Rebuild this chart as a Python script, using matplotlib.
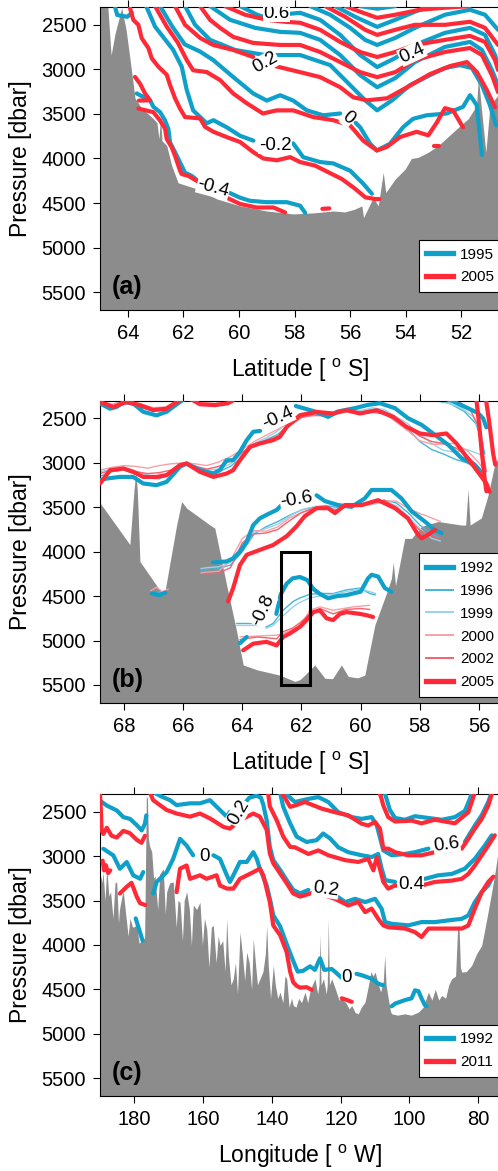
import numpy as np
import matplotlib.pyplot as plt
from matplotlib.lines import Line2D
from matplotlib.patches import Rectangle

plt.rcParams['font.family'] = ['Liberation Sans', 'DejaVu Sans']
plt.rcParams['mathtext.fontset'] = 'custom'
plt.rcParams['mathtext.rm'] = 'Liberation Sans'

BLUE = '#0FA0CA'
RED = '#FF2A38'
BLUE_96 = '#45B5DA'
BLUE_99 = '#96D3EA'
PINK_00 = '#F8A0A8'
PINK_02 = '#F5616D'
GREY = '#8C8C8C'

# ---------------- panel (a): latitude [S] vs pressure, 1995 / 2005 ----------------
a_topo = [(65.2, 2200), (64.74, 2200), (64.60, 2840), (64.46, 2600), (64.22, 2310), (64.06, 2556),
          (63.86, 3030), (63.74, 3324), (63.50, 3437), (63.09, 3550), (62.95, 3600), (62.88, 3780),
          (62.82, 3530), (62.77, 3800), (62.60, 3855), (62.42, 4081), (62.19, 4273), (61.52, 4340),
          (60.80, 4453), (59.96, 4532), (59.00, 4589), (58.05, 4622), (57.30, 4610), (56.61, 4589),
          (56.20, 4600), (55.85, 4570), (55.58, 4532), (55.52, 4664), (55.17, 4438), (54.99, 4532),
          (54.81, 4156), (54.72, 4382), (54.38, 4231), (54.02, 4118), (53.80, 4000), (53.55, 3987),
          (53.19, 3930), (52.83, 3855), (52.23, 3685), (51.75, 3553), (51.45, 3403), (51.39, 3084),
          (51.29, 3403), (51.12, 3930), (50.97, 3403), (50.68, 3290), (50.5, 3250)]

a_1995 = [
    [(64.45, 2310), (64.38, 2390), (64.02, 2410), (63.85, 2365)],
    [(63.68, 3270), (63.44, 3310), (63.20, 3347), (63.08, 3420), (62.84, 3480), (62.66, 3573),
     (62.54, 3670), (62.48, 3820), (62.30, 3930), (62.12, 4045), (61.94, 4160), (61.70, 4195),
     (61.40, 4270), None, (60.38, 4380), (59.96, 4440), (59.60, 4475), (59.00, 4490), (58.28, 4490),
     (57.80, 4530), (57.62, 4610)],
    [(63.34, 2290), (63.02, 2520), (62.37, 2780), (62.06, 2970), (61.88, 3230), (61.65, 3460),
     (61.16, 3605), (60.92, 3570), (60.44, 3650), (59.96, 3745), (59.48, 3800), None, (58.05, 3830),
     (57.69, 3985), (57.08, 4040), (56.61, 4055), (56.00, 4137), (55.53, 4283), (55.22, 4395)],
    [(62.84, 2290), (62.40, 2520), (61.95, 2720), (61.40, 2800), (60.93, 2895), (60.21, 3085),
     (59.49, 3270), (59.00, 3350), (58.52, 3290), (58.05, 3350), (57.56, 3460), (56.97, 3515),
     (56.36, 3495), None, (55.80, 3600), (55.64, 3650), (55.28, 3835), (55.04, 3910), (54.57, 3835),
     (54.10, 3650), (53.74, 3555), (53.25, 3515), (52.53, 3495), (51.94, 3420), (51.69, 3290),
     (51.45, 3400), (51.26, 3960)],
    [(61.94, 2290), (61.58, 2500), (61.04, 2669), (60.14, 2782), (59.06, 2839), (57.80, 2839),
     (56.72, 2952), (56.00, 3177), (55.46, 3347), (55.03, 3460), (54.49, 3347), (53.85, 3177),
     (53.13, 3065), (52.59, 2985), (52.05, 2952), (51.62, 2985), (51.26, 3177), (50.97, 3403),
     (50.75, 3629)],
    [(61.04, 2290), (60.32, 2444), (59.42, 2534), (58.52, 2579), (57.80, 2590), (57.08, 2669),
     (56.36, 2839), (55.64, 3065), (55.03, 3200), (54.38, 3098), (53.67, 2918), (52.59, 2748),
     (51.69, 2692), (51.26, 2782), (50.90, 3008), (50.68, 3177)],
    [(59.96, 2290), (59.35, 2387), (59.13, 2410), None, (58.16, 2376), (57.80, 2365), (57.08, 2444),
     (56.36, 2613), (55.64, 2839), (55.03, 2974), (54.38, 2873), (53.67, 2726), (52.59, 2590),
     (51.69, 2534), (51.15, 2613), (50.79, 2839), (50.68, 2952)],
    [(57.44, 2290), (56.72, 2387), (56.00, 2534), (55.46, 2669), (55.03, 2726), (54.38, 2647),
     (53.67, 2534), (52.59, 2387), (51.69, 2331), (51.15, 2387), (50.68, 2556)],
    [(56.54, 2290), (55.82, 2410), (55.03, 2523), (54.38, 2444), (53.67, 2353), (53.13, 2290)],
    [(55.64, 2290), (55.03, 2319), (54.38, 2290)],
]

a_2005 = [
    [(63.74, 3085), (63.56, 3160), (63.38, 3270), (63.20, 3347), (63.60, 3350)],
    [(63.62, 3440), (63.08, 3480), (62.84, 3573), (62.66, 3665), (62.60, 3780), (62.42, 3875),
     (62.30, 3970), (62.18, 4080), (62.12, 4137), (62.06, 4175), (61.82, 4195), (61.52, 4250),
     (61.16, 4325), (60.80, 4400), (60.44, 4440), (59.96, 4510), (59.36, 4550), (58.76, 4550),
     (58.34, 4605)],
    [(57.0, 4565), (56.75, 4560)],
    [(63.94, 2290), (63.80, 2445), (63.62, 2500), (63.50, 2650), (63.26, 2760), (63.14, 2875),
     (62.90, 2970), (62.60, 3060), (62.48, 3175), (62.30, 3325), (62.12, 3440), (61.94, 3535),
     (61.40, 3550), (61.22, 3645), (60.92, 3700), (60.44, 3760), (59.96, 3815), (59.48, 3930),
     (59.12, 4000), (58.64, 4020), (58.16, 3985), (57.80, 4040), (57.26, 4080), (56.78, 4155),
     (56.30, 4230), (55.82, 4340), (55.46, 4435), (55.10, 4455), (54.95, 4455)],
    [(63.02, 2290), (62.60, 2520), (62.20, 2700), (61.88, 2895), (61.65, 3010), (61.16, 3030),
     (60.68, 3120), (60.21, 3270), (59.72, 3380), (59.14, 3495), (58.64, 3460), (58.05, 3460),
     (57.33, 3535), (56.61, 3570), (56.00, 3630), (55.53, 3800), (55.04, 3910), (54.68, 3870),
     (54.21, 3760), (53.61, 3700), (53.19, 3740), (52.89, 3600), (52.59, 3435), (52.30, 3460),
     (51.94, 3650)],
    [(53.0, 3860), (52.8, 3860)],
    [(62.30, 2290), (61.94, 2500), (61.40, 2647), (60.93, 2726), (60.21, 2782), (59.49, 2861), None,
     (58.70, 2963), (57.80, 3031), (57.08, 3087), (56.36, 3200), (55.89, 3313), (55.39, 3347),
     (54.67, 3324), (53.95, 3200), (53.13, 3053), (52.41, 2963), (51.80, 2918), (51.44, 3031),
     (51.08, 3234), (50.79, 3426)],
    [(61.40, 2290), (61.04, 2444), (60.68, 2534), (60.21, 2635), (59.49, 2703), (58.52, 2726),
     (57.80, 2726), (57.08, 2805), (56.36, 2918), (55.64, 3031), (55.03, 3087), (54.38, 3031),
     (53.67, 2895), (52.59, 2805), (51.69, 2760), (51.26, 2839), (50.90, 3065), (50.68, 3256)],
    [(60.50, 2290), (59.78, 2387), (58.99, 2444), (58.34, 2466), (57.80, 2477), (57.08, 2556),
     (56.36, 2692), (55.64, 2805), (55.03, 2861), (54.38, 2805), (53.67, 2726), (52.59, 2669),
     (51.69, 2624), (51.15, 2692), (50.79, 2895), (50.68, 3008)],
    [(56.90, 2290), (56.18, 2410), (55.46, 2556), (55.03, 2613), (54.38, 2556), (53.67, 2500),
     (52.59, 2500), (51.69, 2466), (51.15, 2534), (50.68, 2726)],
    [(56.18, 2290), (55.64, 2353), (55.03, 2421), (54.38, 2387), (53.49, 2331), (52.59, 2308),
     (51.69, 2290)],
]

a_labels = [('0.6', 58.64, 2370, 0), ('0.2', 59.05, 2925, 30), ('0.4', 53.78, 2820, 25),
            ('0', 56.07, 3550, -40), ('-0.2', 58.70, 3855, 0), ('-0.4', 60.93, 4330, -15)]

# ---------------- panel (b): latitude [S], 1992..2005 ----------------
b_topo = [(68.9, 3450), (68.81, 3450), (67.80, 3920), (67.66, 3300), (67.60, 3100), (67.55, 3300),
          (67.46, 4110), (66.67, 4490), (66.60, 4420), (66.22, 3700), (66.05, 3435), (65.88, 3510),
          (65.09, 3700), (64.93, 3735), (64.53, 4375), (64.19, 4900), (63.97, 5275), (63.50, 5330),
          (62.73, 5390), (62.22, 5460), (62.05, 5440), (61.89, 5390), (61.55, 5275), (61.21, 5425),
          (60.95, 5430), (60.65, 5275), (60.42, 5405), (60.10, 5420), (59.86, 5390), (59.52, 4825),
          (59.13, 4470), (58.96, 4300), (58.90, 4120), (58.82, 4380), (58.51, 3850), (58.28, 3850),
          (57.94, 3715), (57.38, 3660), (56.59, 3700), (56.45, 3700), (56.37, 3300), (56.30, 3700),
          (55.92, 3620), (55.69, 3360), (55.47, 3020), (55.36, 2950), (55.2, 2900)]

b_m04 = {
    '1992': [(68.81, 3195), (68.58, 3176), (68.14, 3158), (67.69, 3158), (67.35, 3232), (66.90, 3251),
             (66.56, 3214), (66.11, 3045), (65.88, 3007), (65.43, 3082), (64.98, 3119), (64.76, 3082),
             (64.53, 2970), (64.31, 2970), (64.08, 2876), (63.85, 2744), (63.63, 2650), (63.40, 2640),
             None, (62.19, 2360), (61.55, 2421), (61.10, 2482), (60.76, 2421), (60.20, 2384),
             (59.75, 2347), (59.35, 2328), (58.84, 2384), (58.40, 2497), (57.94, 2572), (57.49, 2685),
             (57.04, 2797), (56.59, 2947), (56.14, 3022), (55.86, 3135)],
    '1996': [(68.81, 3150), (68.4, 3100), (68.0, 3080), (67.6, 3130), (67.2, 3170), (66.8, 3180),
             (66.4, 3120), (66.0, 3020), (65.6, 3050), (65.2, 3110), (64.8, 3100), (64.4, 3040),
             (64.0, 2930), (63.6, 2800), (63.2, 2740), (62.8, 2680), (62.4, 2560), (62.0, 2470),
             (61.6, 2450), (61.2, 2450), (60.8, 2420), (60.4, 2400), (60.0, 2430), (59.6, 2400),
             (59.2, 2420), (58.8, 2500), (58.4, 2620), (58.0, 2760), (57.6, 2850), (57.2, 2900),
             (56.8, 2960), (56.4, 3000), (56.0, 3080), (55.8, 3150)],
    '1999': [(68.81, 3100), (68.4, 3070), (68.0, 3050), (67.6, 3090), (67.2, 3140), (66.8, 3150),
             (66.4, 3100), (66.0, 3000), (65.6, 3030), (65.2, 3080), (64.8, 3070), (64.4, 3010),
             (64.0, 2900), (63.6, 2780), (63.2, 2720), (62.8, 2640), (62.4, 2530), (62.0, 2450),
             (61.6, 2440), (61.2, 2460), (60.8, 2410), (60.4, 2390), (60.0, 2410), (59.6, 2380),
             (59.2, 2400), (58.8, 2480), (58.4, 2560), (58.0, 2680), (57.6, 2780), (57.2, 2860),
             (56.8, 2880), (56.4, 2850), (56.0, 2900), (55.8, 2960)],
    '2000': [(68.81, 3080), (68.4, 3050), (68.0, 3030), (67.6, 3040), (67.2, 3060), (66.8, 3030),
             (66.4, 3010), (66.0, 3000), (65.6, 3010), (65.2, 3030), (64.8, 2990), (64.4, 2930),
             (64.0, 2850), (63.6, 2760), (63.2, 2690), (62.8, 2620), (62.4, 2540), (62.0, 2480),
             (61.6, 2470), (61.2, 2470), (60.8, 2440), (60.4, 2420), (60.0, 2440), (59.6, 2420),
             (59.2, 2440), (58.8, 2540), (58.4, 2640), (58.0, 2750), (57.6, 2790), (57.2, 2790),
             (56.8, 2780), (56.4, 2860), (56.0, 3000), (55.8, 3100)],
    '2002': [(68.81, 3120), (68.4, 3080), (68.0, 3060), (67.6, 3100), (67.2, 3120), (66.8, 3110),
             (66.4, 3080), (66.0, 3010), (65.6, 3040), (65.2, 3070), (64.8, 3040), (64.4, 2980),
             (64.0, 2880), (63.6, 2790), (63.2, 2750), (62.8, 2700), (62.4, 2580), (62.0, 2490),
             (61.6, 2460), (61.2, 2470), (60.8, 2440), (60.4, 2420), (60.0, 2450), (59.6, 2430),
             (59.2, 2450), (58.8, 2520), (58.4, 2600), (58.0, 2700), (57.6, 2760), (57.2, 2780),
             (56.8, 2830), (56.4, 2920), (56.0, 3050), (55.8, 3150)],
    '2005': [(68.81, 3232), (68.47, 3082), (68.02, 3063), (67.69, 3101), (67.35, 3158), (66.90, 3158),
             (66.56, 3138), (66.11, 3026), (65.88, 3007), (65.43, 3101), (64.98, 3158), (64.53, 3120),
             (64.31, 3082), (64.08, 2970), (63.74, 2820), (63.41, 2782), (62.96, 2744), (62.73, 2707),
             (62.50, 2595), (62.05, 2463), (61.49, 2426), (60.93, 2444), (60.48, 2407), (60.03, 2444),
             (59.46, 2407), (58.90, 2482), (58.45, 2595), (58.00, 2669), (57.55, 2688), (57.10, 2669),
             (56.76, 2782), (56.42, 2932), (56.08, 3082), (55.75, 3232), (55.64, 3326)],
}

b_m06 = {
    '1992': [(67.05, 4470), (66.8, 4490), (66.6, 4460), None,
             (64.99, 4120), (64.53, 4110), (64.31, 4075), (64.08, 4000), (63.85, 3885), (63.63, 3700),
             (63.41, 3625), (63.18, 3585), (62.84, 3530), (62.67, 3475), None, (61.49, 3365),
             (61.21, 3430), (60.76, 3475), (60.31, 3495), (59.86, 3400), (59.63, 3305), (58.96, 3305),
             (58.62, 3400), (58.28, 3545), (57.83, 3660), (57.49, 3755), (57.27, 3790)],
    '1996': [(67.0, 4470), (66.8, 4450), (66.6, 4475), None,
             (65.4, 4220), (65.2, 4200), (64.8, 4190), (64.4, 4150), (64.0, 4000), (63.6, 3800),
             (63.2, 3720), (62.8, 3660), (62.4, 3590), (62.0, 3530), (61.6, 3500), (61.2, 3480),
             (60.8, 3500), (60.4, 3460), (60.0, 3470), (59.6, 3450), (59.2, 3420), (58.8, 3450),
             (58.4, 3560), (58.0, 3700), (57.6, 3800), (57.3, 3850)],
    '1999': [(65.4, 4190), (65.2, 4180), (64.8, 4170), (64.4, 4120), (64.0, 3950), (63.6, 3780),
             (63.2, 3740), (62.8, 3690), (62.4, 3600), (62.0, 3530), (61.6, 3490), (61.2, 3490),
             (60.8, 3520), (60.4, 3480), (60.0, 3480), (59.6, 3470), (59.2, 3440), (58.8, 3480),
             (58.4, 3600), (58.0, 3740), (57.6, 3850), (57.3, 3880)],
    '2000': [(67.1, 4440), (66.9, 4400), (66.7, 4450), (66.5, 4420), None,
             (65.4, 4240), (65.2, 4230), (64.8, 4220), (64.4, 4100), (64.0, 3850), (63.6, 3760),
             (63.2, 3770), (62.8, 3720), (62.4, 3620), (62.0, 3560), (61.6, 3520), (61.2, 3500),
             (60.8, 3530), (60.4, 3490), (60.0, 3490), (59.6, 3460), (59.2, 3430), (58.8, 3430),
             (58.4, 3510), (58.0, 3570), (57.6, 3620), (57.3, 3660)],
    '2002': [(65.2, 4250), (64.8, 4240), (64.4, 4180), (64.0, 3900), (63.6, 3800), (63.2, 3790),
             (62.8, 3750), (62.4, 3650), (62.0, 3560), (61.6, 3510), (61.2, 3500), (60.8, 3540),
             (60.4, 3480), (60.0, 3480), (59.6, 3450), (59.2, 3420), (58.8, 3500), (58.4, 3620),
             (58.0, 3760), (57.6, 3820), (57.3, 3860)],
    '2005': [(64.48, 4560), (64.31, 4410), (64.08, 4150), (63.85, 4035), (63.41, 3980), (62.96, 3925),
             (62.50, 3825), (62.17, 3715), (61.89, 3600), (61.49, 3510), (61.10, 3510), (60.87, 3565),
             (60.53, 3475), (59.97, 3475), (59.41, 3420), (58.84, 3510), (58.40, 3625), (58.06, 3810),
             (57.94, 3850), (57.72, 3810), (57.49, 3755)],
}

b_m08 = {
    '1992': [(64.08, 5030), (63.85, 4960), None, (62.85, 4700), (62.70, 4480), (62.50, 4360),
             (62.30, 4300), (62.05, 4285), (61.80, 4320), (61.60, 4420), (61.40, 4470), (61.10, 4525),
             (60.80, 4500), (60.50, 4490), (60.00, 4450), (59.75, 4300), (59.63, 4260), (59.41, 4280),
             (59.18, 4410), (58.96, 4450)],
    '1996': [(64.19, 4808), (63.52, 4808), (63.18, 4846), (62.96, 4808), (62.62, 4659), (62.28, 4560),
             (62.05, 4520), (61.72, 4480), (61.38, 4470), (60.93, 4471), (60.48, 4430), (60.03, 4410),
             (59.69, 4471), (59.5, 4486)],
    '1999': [(64.19, 4830), (63.52, 4830), (63.18, 4860), (62.96, 4830), (62.62, 4720), (62.28, 4620),
             (62.05, 4570), (61.72, 4520), (61.38, 4500), (60.93, 4480), (60.48, 4450), (60.03, 4420),
             (59.69, 4450), (59.5, 4470)],
    '2000': [(64.08, 4959), (63.5, 4950), (62.84, 4940), (62.62, 4921), (62.05, 4846), (61.72, 4659),
             (61.38, 4621), (60.93, 4659), (60.25, 4621), (59.69, 4603)],
    '2002': [(64.08, 4990), (63.5, 4960), (62.84, 4980), (62.62, 4900), (62.3, 4860), (62.05, 4800),
             (61.72, 4700), (61.38, 4640), (60.93, 4700), (60.5, 4650), (60.0, 4640), (59.69, 4650)],
    '2005': [(63.97, 5110), (63.63, 5035), (63.18, 5015), (62.84, 5055), (62.62, 4960), (62.39, 4920),
             (62.05, 4845), (61.83, 4770), (61.60, 4680), (61.38, 4660), (61.15, 4750), (60.93, 4770),
             (60.70, 4700), (60.48, 4680), (60.03, 4700), (59.80, 4715), (59.58, 4735)],
}

b_top = {
    '1992': [(68.81, 2330), (68.47, 2390), (68.25, 2370), (68.02, 2315), (67.69, 2330), (67.35, 2425),
             (66.90, 2465), (66.56, 2425), (66.34, 2370), (66.11, 2315), (65.95, 2280), None,
             (57.3, 2260), (56.93, 2300), (56.37, 2385), (56.03, 2440), (55.86, 2500), (55.75, 2600)],
    '1996': [(68.81, 2310), (68.4, 2360), (68.0, 2320), (67.5, 2370), (67.0, 2420), (66.5, 2400),
             (66.1, 2300), None, (57.6, 2290), (57.0, 2330), (56.5, 2420), (56.1, 2560),
             (55.9, 2760), (55.8, 2900)],
    '1999': [(57.8, 2300), (57.2, 2310), (56.6, 2380), (56.2, 2480), (55.95, 2650), (55.85, 2800)],
    '2000': [(68.81, 2300), (68.4, 2340), (68.0, 2300), (67.5, 2330), (67.0, 2380), (66.6, 2370),
             (66.2, 2300), None, (65.7, 2290), (65.4, 2320), (64.9, 2330), (64.4, 2300)],
    '2002': [(56.8, 2280), (56.3, 2400), (56.0, 2600), (55.85, 2900), (55.75, 3100)],
    '2005': [(68.81, 2315), (68.36, 2370), (67.91, 2315), (67.46, 2350), (67.01, 2405), (66.56, 2390),
             (66.22, 2315), (66.0, 2280), None, (65.8, 2280), (65.67, 2295), (65.43, 2340),
             (64.93, 2350), (64.5, 2330), (64.32, 2300), None, (56.10, 2250), (56.00, 2550),
             (55.92, 2830), (55.80, 3200), (55.75, 3320), None, (55.78, 2250), (55.65, 2550),
             (55.52, 2900), (55.45, 3020)],
}

b_labels = [('-0.4', 62.80, 2500, 25), ('-0.6', 62.17, 3420, 10), ('-0.8', 63.29, 4660, 65)]
b_box = (61.7, 62.7, 4000, 5500)

# ---------------- panel (c): longitude [W], 1992 / 2011 ----------------
c_topo = [(190.5, 3150), (189.97, 3180), (189.4, 3300), (189.10, 3180), (188.5, 3500), (188.02, 3120),
          (187.4, 3450), (186.9, 3400), (186.2, 3700), (185.6, 3300), (185.12, 3290), (184.6, 3750),
          (184.3, 3600), (183.6, 3450), (183.20, 3400), (182.5, 3650), (181.8, 3900), (181.25, 3700),
          (180.5, 3800), (179.30, 3780), (178.6, 3980), (177.85, 3950), (177.0, 3920), (176.7, 3000),
          (176.5, 2330), (176.2, 2340), (175.9, 2800), (175.6, 2880), (174.94, 2950), (174.4, 3250),
          (173.98, 3220), (173.2, 3600), (172.6, 3200), (171.57, 3140), (171.0, 3650), (170.58, 3400),
          (169.7, 3300), (168.66, 3290), (167.8, 3800), (167.3, 3500), (166.71, 3520), (166.0, 3950),
          (165.5, 3500), (164.77, 3400), (164.0, 3600), (163.4, 4000), (162.85, 3550), (161.9, 3600),
          (160.90, 3520), (160.2, 4000), (159.6, 3700), (158.95, 3820), (158.3, 4250), (157.6, 3800),
          (157.03, 3780), (156.2, 4200), (155.6, 3900), (155.09, 4005), (154.3, 3950), (153.6, 4300),
          (153.14, 3705), (152.7, 4100), (151.9, 4450), (151.22, 4380), (150.6, 4200), (150.0, 4550),
          (149.27, 3855), (148.6, 4100), (147.9, 4400), (147.33, 4080), (146.6, 4200), (145.9, 4500),
          (145.41, 3930), (144.8, 4200), (144.2, 4450), (143.46, 4380), (142.6, 4300), (141.9, 4100),
          (141.51, 3780), (141.1, 4200), (140.4, 4600), (139.59, 4230), (139.0, 4450), (138.3, 4600),
          (137.64, 4530), (136.8, 4650), (136.2, 4350), (135.70, 4380), (135.0, 4700), (134.3, 4600),
          (133.78, 4680), (133.0, 4700), (132.2, 4600), (131.4, 4650), (130.38, 4530), (129.6, 4650),
          (128.8, 4500), (127.47, 4380), (126.7, 4550), (126.3, 4450), (126.02, 3890), (125.7, 4450),
          (125.0, 4380), (124.2, 4550), (123.9, 4450), (123.6, 3705), (123.3, 4450), (122.62, 4380),
          (121.5, 4500), (120.5, 4620), (119.71, 4606), (118.5, 4650), (117.5, 4720), (116.80, 4680),
          (115.8, 4760), (114.88, 4775), (114.0, 4700), (112.93, 4643), (111.9, 4450), (111.2, 4300),
          (110.6, 4350), (110.01, 4305), (109.0, 4450), (108.4, 4530), (107.6, 4400), (107.2, 4120),
          (106.8, 4450), (106.16, 4606), (105.5, 4750), (105.17, 4775), (103.5, 4790), (101.30, 4775),
          (99.5, 4790), (97.44, 4756), (96.0, 4700), (94.53, 4530), (93.5, 4620), (92.5, 4500),
          (91.5, 4620), (90.64, 4568), (89.5, 4600), (88.6, 4450), (87.73, 4380), (86.6, 4350),
          (86.0, 3800), (85.6, 3780), (85.2, 4250), (84.82, 4305), (83.5, 4300), (81.92, 4230),
          (80.5, 4100), (79.01, 4005), (77.5, 3700), (76.11, 3404), (75.0, 3150), (74.28, 2954),
          (73.5, 2800)]

c_1992 = [
    [(189.8, 2380), (188.0, 2430), (185.1, 2485), (183.2, 2560), (181.25, 2580), (179.3, 2650),
     (177.85, 2710), (176.9, 2635), (176.5, 2540), None, (174.0, 2290), (172.0, 2330), (169.6, 2370),
     (167.7, 2425), (163.8, 2405), (160.9, 2405), (158.0, 2370), (155.1, 2480), (153.1, 2556),
     (152.2, 2500), (151.3, 2520), None, (148.3, 2420), (146.5, 2340), (144.5, 2320), (143.2, 2340),
     (142.5, 2420), (141.5, 2600), (140.6, 2895), (139.6, 3045), (137.6, 3155), (135.7, 3270),
     (133.8, 3380), (131.8, 3420), (129.4, 3380), None, (121.5, 3440), (118.7, 3517), (115.8, 3480),
     (112.9, 3517), (110.0, 3480), (108.1, 3592), (107.1, 3742), (105.2, 3761), (100.3, 3779),
     (96.5, 3742), (92.6, 3742), (88.7, 3723), (84.8, 3705), (82.9, 3667), (81.0, 3517), (79.0, 3404),
     (77.1, 3329), (76.1, 3254)],
    [(189.0, 2917), (186.1, 2991), (184.2, 3142), (182.2, 3066), (180.3, 3216), (178.3, 3254),
     (177.4, 3179)],
    [(179.6, 3700), (178.8, 3800), (178.0, 3900), (177.6, 3950)],
    [(174.5, 3420), (173.5, 3290), (170.6, 3180), (168.7, 3030), (166.7, 2805), (164.8, 2880),
     (162.9, 2990), None, (157.0, 2990), (155.1, 3030), (153.1, 3215), (152.2, 3290), (151.2, 3215),
     (149.3, 3065), (147.3, 3065), (145.4, 2955), (144.4, 3030), (143.5, 3140), (141.5, 3330),
     (140.3, 3530), (139.6, 3665), (137.6, 3790), (135.7, 3990), (133.8, 4180), (132.5, 4300),
     (130.9, 4290), (128.9, 4240), (127.5, 4280), (126.0, 4150), (124.8, 4280), (122.6, 4270),
     (121.7, 4300), (119.7, 4370), None, (115.4, 4325), (113.9, 4340), (111.0, 4380), (109.1, 4435),
     (107.6, 4455), None, (105.2, 4690), (104.2, 4660), (101.3, 4620), (99.4, 4600), (98.4, 4510),
     (97.4, 4520), (96.5, 4600), (95.5, 4680), (95.0, 4690)],
    [(137.6, 2290), (136.7, 2445), (134.7, 2630), (132.8, 2780), (129.9, 2840), (127.0, 2820),
     (125.1, 2745), (123.1, 2800), (120.7, 2900), (117.8, 2955), (113.9, 2990), (111.0, 3010),
     (109.1, 2975), (108.1, 3140), (107.1, 3270), (104.2, 3290), None, (95.5, 3255), (91.6, 3215),
     (87.7, 3200), (83.9, 3140), (81.0, 3030), (78.1, 2880), (76.1, 2765)],
    [(136.0, 2290), (134.5, 2350), (133.3, 2390), (129.4, 2355), (126.5, 2335), (123.6, 2390),
     (120.7, 2505), (116.8, 2560), (113.9, 2580), (111.0, 2560), (109.5, 2655), (107.6, 2935),
     (105.2, 2990), (101.3, 2975), (98.4, 2955), (94.5, 2915), None, (83.9, 2840), (81.0, 2655),
     (79.0, 2540), (77.1, 2390), (76.2, 2290)],
    [(107.4, 2280), (107.1, 2300), (105.7, 2480), (104.2, 2570), (101.3, 2590), (98.4, 2550),
     (94.5, 2570), (90.6, 2590), (86.8, 2560), (83.9, 2490), (82.4, 2350), (81.9, 2280)],
]

c_2011 = [
    [(190.0, 2280), (189.7, 2500), (189.5, 2710), (189.0, 2750), (188.0, 2680), (186.6, 2770),
     (185.1, 2790), (183.2, 2715), (181.3, 2740), (179.3, 2815), (177.9, 2850), (176.9, 2770)],
    [(189.2, 3050), (188.8, 3160), (188.3, 3100), (187.6, 3190), (187.0, 3160)],
    [(184.2, 3420), (182.2, 3345), (180.8, 3300), (179.3, 3455), (178.3, 3530), (176.8, 3550)],
    [(175.4, 2290), (174.5, 2370), (170.6, 2480), (167.7, 2520), (163.8, 2555), (160.9, 2520),
     (158.0, 2575), (154.1, 2670), (152.2, 2690), (149.3, 2595), (145.4, 2520), (143.5, 2555),
     (141.5, 2705), (140.6, 2970), (139.6, 3080), (137.6, 3195), (135.7, 3305), (133.8, 3420),
     (131.8, 3455), (127.5, 3405), (121.7, 3480), (117.8, 3555), (114.9, 3515), (112.9, 3630),
     (111.0, 3590), (109.1, 3705), (107.6, 3780), (106.2, 3800), (101.3, 3815), (98.4, 3855),
     (96.5, 3910), (94.5, 3815), (90.6, 3815), (84.8, 3815), (82.9, 3780), (81.0, 3590), (79.0, 3405),
     (77.1, 3290), (75.6, 3230)],
    [(167.7, 3405), (166.7, 3140), (164.8, 3105), (163.8, 3255), (160.9, 3215), (159.0, 3255),
     (156.1, 3215), (155.1, 3330), (153.1, 3365), (151.2, 3365), (149.3, 3255), (145.4, 3180),
     (143.5, 3140), (142.5, 3215), (140.6, 3515), (139.6, 3780), (137.6, 3890), (135.7, 4080),
     (134.7, 4300), (133.8, 4420), (132.8, 4460), (131.8, 4480), (129.9, 4475), (128.4, 4505)],
    [(119.7, 4600), (118.5, 4615), (116.8, 4640)],
    [(141.1, 2290), (140.6, 2440), (138.6, 2595), (136.7, 2780), (134.7, 2895), (133.3, 2900),
     (129.4, 2975), (126.5, 2935), (123.6, 2990), (118.7, 3045), (114.9, 3065), (112.0, 3030),
     (110.5, 3160), (109.5, 3010), (107.6, 3290), (106.2, 3365), (104.2, 3330), (100.3, 3350),
     (96.5, 3330), (92.6, 3290), (87.7, 3275), (84.8, 3255), (82.9, 3200), (81.0, 3105), (79.0, 2990),
     (77.1, 2880), (75.2, 2765)],
    [(137.0, 2290), (136.7, 2310), (134.7, 2445), (133.3, 2430), (130.4, 2390), (125.5, 2465),
     (121.7, 2505), (117.8, 2540), (113.9, 2635), (112.0, 2655), (110.0, 2615), (108.6, 2690),
     (107.6, 2915), (106.2, 2915), (104.2, 2955), (100.4, 2990), (96.5, 2990), (92.6, 2955),
     (88.7, 2940), (84.8, 2915), (82.9, 2805), (81.0, 2690), (79.0, 2580), (77.1, 2430), (76.0, 2290)],
    [(108.7, 2290), (108.3, 2330), (107.6, 2430), (106.2, 2560), (104.2, 2610), (99.4, 2600),
     (96.5, 2630), (92.6, 2590), (86.8, 2630), (82.9, 2505), (81.9, 2390), (81.0, 2280)],
]

c_labels = [('0.2', 149.7, 2510, 60), ('0', 159.45, 3000, 0), ('0.2', 124.4, 3370, -8),
            ('0.4', 99.6, 3320, 0), ('0.6', 89.2, 2867, 8), ('0', 118.3, 4361, 0)]


def split(pts):
    x = np.array([np.nan if q is None else q[0] for q in pts])
    y = np.array([np.nan if q is None else q[1] for q in pts])
    return x, y


def draw(ax, pts, color, lw, z=3):
    x, y = split(pts)
    ax.plot(x, y, color=color, lw=lw, zorder=z, solid_capstyle='round', solid_joinstyle='round')


def ground(ax, pts):
    x, y = split(pts)
    ax.fill_between(x, y, 6000, color=GREY, lw=0, zorder=1)


def labels(ax, items):
    for txt, x, y, rot in items:
        ax.text(x, y, txt, rotation=rot, fontsize=13.5, ha='center', va='center',
                rotation_mode='anchor', zorder=6, clip_on=True,
                bbox=dict(facecolor='white', edgecolor='none', pad=0.3))


def style(ax, xlim, xticks, xlabel, tag):
    ax.set_xlim(*xlim)
    ax.set_ylim(5700, 2300)
    ax.set_xticks(xticks)
    ax.set_yticks(range(2500, 5501, 500))
    ax.tick_params(direction='out', top=True, labelsize=14.5, length=5, width=0.8, pad=5)
    ax.set_ylabel('Pressure [dbar]', fontsize=16.5, labelpad=7)
    ax.set_xlabel(xlabel, fontsize=16.5, labelpad=10)
    ax.text(0.03, 0.035, tag, transform=ax.transAxes, fontsize=18, fontweight='bold',
            va='bottom', zorder=7)


def legend(ax, handles, names, y0):
    leg = ax.legend(handles, names, loc='lower right', bbox_to_anchor=(1.005, y0), borderaxespad=0,
                    fontsize=11, fancybox=False, edgecolor='black', framealpha=1, handlelength=1.77,
                    handletextpad=0.46, labelspacing=0.58, borderpad=0.5)
    leg.get_frame().set_linewidth(0.8)
    leg.set_zorder(10)


fig = plt.figure(figsize=(4.98, 11.71), dpi=100)
left, width = 100 / 498, 400 / 498
ax_a = fig.add_axes([left, 1 - 310 / 1171, width, 303 / 1171])
ax_b = fig.add_axes([left, 1 - 702.7 / 1171, width, 302 / 1171])
ax_c = fig.add_axes([left, 1 - 1096 / 1171, width, 302 / 1171])

THICK, THIN = 3.0, 1.0

# (a)
ground(ax_a, a_topo)
for line in a_1995:
    draw(ax_a, line, BLUE, THICK)
for line in a_2005:
    draw(ax_a, line, RED, THICK)
labels(ax_a, a_labels)
style(ax_a, (65.0, 50.61), [64, 62, 60, 58, 56, 54, 52], r'Latitude [ $^{\rm o}$ S]', '(a)')
legend(ax_a, [Line2D([], [], color=BLUE, lw=3.8), Line2D([], [], color=RED, lw=3.8)],
       ['1995', '2005'], 0.059)

# (b)
ground(ax_b, b_topo)
year_style = {'1992': (BLUE, THICK, 3), '1996': (BLUE_96, THIN, 2), '1999': (BLUE_99, THIN, 2),
              '2000': (PINK_00, THIN, 2), '2002': (PINK_02, THIN, 2), '2005': (RED, THICK, 4)}
years = ['1992', '1996', '1999', '2000', '2002', '2005']
for group in (b_top, b_m04, b_m06, b_m08):
    for year in years:
        if year in group:
            c, lw, z = year_style[year]
            draw(ax_b, group[year], c, lw, z)
x0, x1, p0, p1 = b_box
ax_b.add_patch(Rectangle((x0, p0), x1 - x0, p1 - p0, fill=False, edgecolor='black', lw=2.2, zorder=5))
labels(ax_b, b_labels)
style(ax_b, (68.81, 55.29), [68, 66, 64, 62, 60, 58, 56], r'Latitude [ $^{\rm o}$ S]', '(b)')
legend(ax_b, [Line2D([], [], color=year_style[y][0], lw=3.8 if year_style[y][1] == THICK else 1.4)
              for y in years], years, 0.019)

# (c)
ground(ax_c, c_topo)
for line in c_1992:
    draw(ax_c, line, BLUE, THICK)
for line in c_2011:
    draw(ax_c, line, RED, THICK)
labels(ax_c, c_labels)
style(ax_c, (189.97, 73.69), [180, 160, 140, 120, 100, 80], r'Longitude [ $^{\rm o}$ W]', '(c)')
legend(ax_c, [Line2D([], [], color=BLUE, lw=3.8), Line2D([], [], color=RED, lw=3.8)],
       ['1992', '2011'], 0.063)

fig.savefig('out.png', dpi=100)
